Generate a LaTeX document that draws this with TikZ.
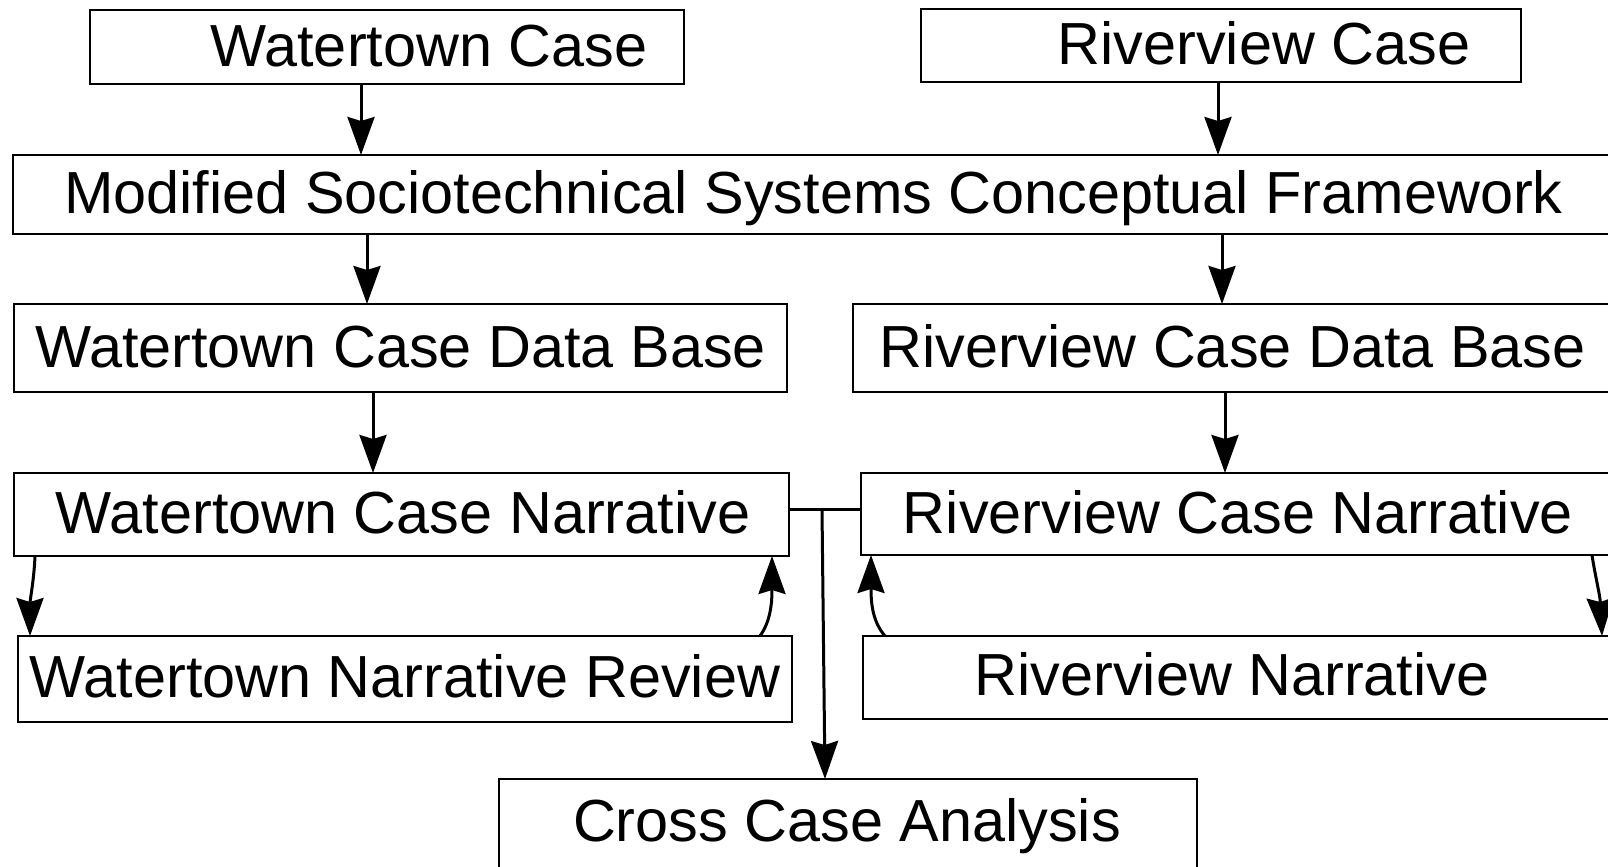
\documentclass[tikz,border=0pt]{standalone}
\usepackage{fontspec}
\setmainfont{Liberation Sans}
\usetikzlibrary{arrows.meta,fit}
\begin{document}
\begin{tikzpicture}[x=0.5pt,y=-0.5pt,
  box/.style={draw,line width=1.35pt,inner sep=0pt,outer sep=0pt,rectangle},
  lbl/.style={anchor=base,inner sep=0pt,font=\fontsize{29.7}{33}\selectfont},
  arr/.style={line width=1.5pt,-{Stealth[length=19pt,width=13.5pt,inset=2pt]}},
  ln/.style={line width=1.5pt}]
\useasboundingbox (0,0) rectangle (1608,867);
\clip (0,0) rectangle (1608,867);
% boxes
\node[box,fit={(90,10) (684,84)}] (wc) {};
\node[box,fit={(921,9) (1521,82)}] (rc) {};
\node[box,fit={(13,155) (1660,234)}] (fw) {};
\node[box,fit={(14,304) (787,392)}] (wdb) {};
\node[box,fit={(853,304) (1660,392)}] (rdb) {};
\node[box,fit={(14,473) (789,556)}] (wn) {};
\node[box,fit={(861,473) (1660,555)}] (rn) {};
\node[box,fit={(18,636) (792,722)}] (wr) {};
\node[box,fit={(863,636) (1660,719)}] (rr) {};
\node[box,fit={(499,779) (1197,920)}] (cc) {};
% texts
\node[lbl] (wct) at (429,66) {Watertown Case};
\node[lbl] (rct) at (1264,64) {Riverview Case};
\node[lbl] (fwt) at (813.5,213) {Modified Sociotechnical Systems Conceptual Framework};
\node[lbl] (wdbt) at (400.5,367) {Watertown Case Data Base};
\node[lbl] (rdbt) at (1232.5,367) {Riverview Case Data Base};
\node[lbl] (wnt) at (403,533) {Watertown Case Narrative};
\node[lbl] (rnt) at (1238,533) {Riverview Case Narrative};
\node[lbl] (wrt) at (405,697) {Watertown Narrative Review};
\node[lbl] (rrt) at (1232,695) {Riverview Narrative};
\node[lbl] (cct) at (847,841) {Cross Case Analysis};
% straight arrows
\draw[arr] (361,0 |- wc.south) -- (361,0 |- fw.north);
\draw[arr] (1218,0 |- rc.south) -- (1218,0 |- fw.north);
\draw[arr] (367,0 |- fw.south) -- (367,0 |- wdb.north);
\draw[arr] (1222,0 |- fw.south) -- (1222,0 |- rdb.north);
\draw[arr] (373,0 |- wdb.south) -- (373,0 |- wn.north);
\draw[arr] (1225,0 |- rdb.south) -- (1225,0 |- rn.north);
% feedback arrows
\draw[arr] (35,0 |- wn.south) .. controls (34,580) and (30,600) .. (30,0 |- wr.north);
\draw[arr] (760,0 |- wr.north) .. controls (770,622) and (772,605) .. (772,0 |- wn.south);
\draw[arr] (885,0 |- rr.north) .. controls (873,622) and (871,605) .. (871,0 |- rn.south);
\draw[arr] (1592,0 |- rn.south) .. controls (1595,575) and (1600,595) .. (1602,0 |- rr.north);
% cross link
\coordinate (j) at (822,509);
\draw[ln] (wn.east |- j) -- (rn.west |- j);
\draw[arr] (j) -- (825,0 |- cc.north);
\end{tikzpicture}
\end{document}
